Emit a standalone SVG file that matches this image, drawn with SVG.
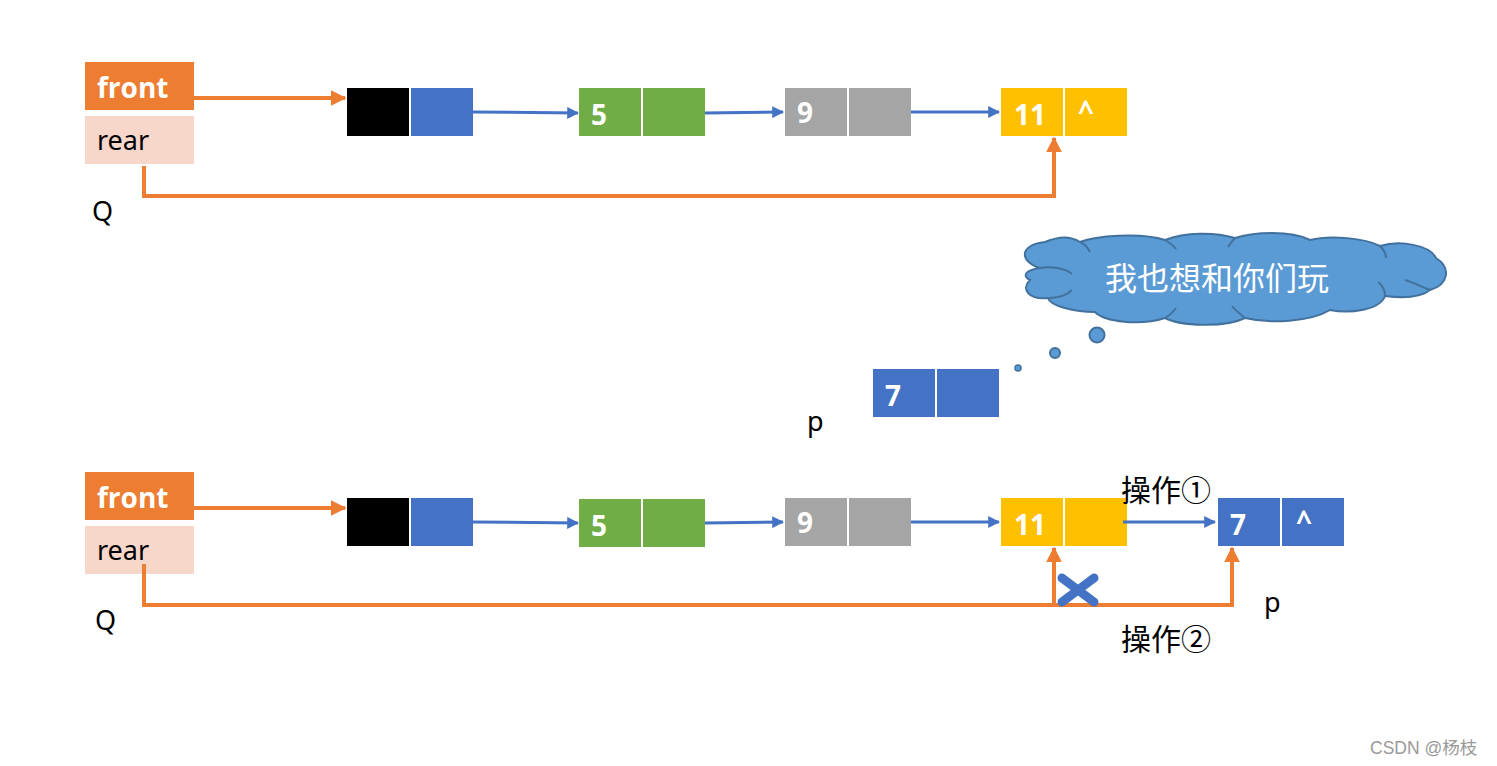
<svg xmlns="http://www.w3.org/2000/svg" width="1497" height="766" viewBox="0 0 1497 766">
<style>
.lbl{font-family:"Noto Sans","Liberation Sans",sans-serif;font-size:27px;fill:#000}
.bw{font-family:"Open Sans","Liberation Sans",sans-serif;font-weight:bold;font-size:28px;fill:#fff}
.cjk{font-family:"Noto Sans CJK SC",sans-serif;font-size:30px;fill:#000}
.oa{stroke:#ED7D31;stroke-width:4;fill:none}
.ba{stroke:#4472C4;stroke-width:3;fill:none}
</style>
<defs>
<marker id="mo" viewBox="0 0 10 10" refX="9" refY="5" markerWidth="4" markerHeight="4" orient="auto" markerUnits="strokeWidth"><path d="M0,0L10,5L0,10z" fill="#ED7D31"/></marker>
<marker id="mb" viewBox="0 0 10 10" refX="9" refY="5" markerWidth="4" markerHeight="4" orient="auto" markerUnits="strokeWidth"><path d="M0,0L10,5L0,10z" fill="#4472C4"/></marker>
</defs>
<rect width="1497" height="766" fill="#fff"/>

<g id="Q1">
<rect x="85" y="62" width="109" height="48" fill="#ED7D31"/>
<text x="97" y="98" class="bw">front</text>
<rect x="85" y="116" width="109" height="48" fill="#F8D7CB"/>
<text x="97" y="150" class="lbl">rear</text>
<text x="92" y="221" class="lbl">Q</text>
</g>
<g id="head1"><rect x="347" y="88" width="62" height="48" fill="#000"/><rect x="411" y="88" width="62" height="48" fill="#4472C4"/></g>
<g id="n5a"><rect x="579" y="88" width="62" height="48" fill="#70AD47"/><rect x="643" y="88" width="62" height="48" fill="#70AD47"/><text x="591" y="125" class="bw">5</text></g>
<g id="n9a"><rect x="785" y="88" width="62" height="48" fill="#A5A5A5"/><rect x="849" y="88" width="62" height="48" fill="#A5A5A5"/><text x="797" y="123" class="bw">9</text></g>
<g id="n11a"><rect x="1001" y="88" width="62" height="48" fill="#FFC000"/><rect x="1065" y="88" width="62" height="48" fill="#FFC000"/><text x="1014" y="125" class="bw">11</text><text x="1078" y="121" class="bw">^</text></g>

<g id="cloud">
<path d="M1040,268 C1020,262 1018,245 1045,242 C1060,236 1070,236 1080,242 C1095,236 1140,232 1165,240 C1185,232 1215,232 1235,238 C1255,232 1290,230 1310,240 C1330,235 1365,238 1380,246 C1400,240 1430,245 1436,258 C1452,268 1448,285 1430,290 C1420,298 1400,298 1385,296 C1380,310 1350,314 1330,310 C1310,322 1270,324 1245,318 C1225,328 1180,326 1165,318 C1140,326 1105,322 1095,312 C1075,312 1050,306 1048,298 C1030,300 1020,290 1030,280 C1022,276 1025,270 1040,268 Z" fill="#5B9BD5" stroke="#41719C" stroke-width="2"/>
<path d="M1040,268 C1050,266 1065,268 1072,274 M1080,242 C1085,244 1088,248 1090,252 M1165,240 C1170,243 1174,246 1176,249 M1235,238 C1232,241 1230,244 1228,247 M1380,246 C1384,250 1386,254 1386,258 M1430,290 C1420,286 1412,282 1405,280 M1385,296 C1385,290 1382,285 1378,282 M1245,318 C1240,314 1235,310 1232,306 M1165,318 C1170,315 1174,311 1176,308 M1048,298 C1060,298 1068,294 1072,290" fill="none" stroke="#41719C" stroke-width="2"/>
<text x="1217" y="290" font-family="Noto Sans CJK SC,sans-serif" font-size="32" fill="#fff" text-anchor="middle">我也想和你们玩</text>
<circle cx="1097" cy="335" r="7.5" fill="#5B9BD5" stroke="#41719C" stroke-width="2"/>
<circle cx="1055" cy="353" r="5" fill="#5B9BD5" stroke="#41719C" stroke-width="2"/>
<circle cx="1018" cy="368" r="3" fill="#5B9BD5" stroke="#41719C" stroke-width="1.5"/>
</g>

<g id="p1"><rect x="873" y="369" width="62" height="48" fill="#4472C4"/><rect x="937" y="369" width="62" height="48" fill="#4472C4"/><text x="885" y="406" class="bw">7</text><text x="807" y="431" class="lbl">p</text></g>

<g id="Q2">
<rect x="85" y="472" width="109" height="48" fill="#ED7D31"/>
<text x="97" y="508" class="bw">front</text>
<rect x="85" y="526" width="109" height="48" fill="#F8D7CB"/>
<text x="97" y="560" class="lbl">rear</text>
<text x="95" y="630" class="lbl">Q</text>
</g>
<g id="head2"><rect x="347" y="498" width="62" height="48" fill="#000"/><rect x="411" y="498" width="62" height="48" fill="#4472C4"/></g>
<g id="n5b"><rect x="579" y="499" width="62" height="48" fill="#70AD47"/><rect x="643" y="499" width="62" height="48" fill="#70AD47"/><text x="591" y="536" class="bw">5</text></g>
<g id="n9b"><rect x="785" y="498" width="62" height="48" fill="#A5A5A5"/><rect x="849" y="498" width="62" height="48" fill="#A5A5A5"/><text x="797" y="533" class="bw">9</text></g>
<g id="n11b"><rect x="1001" y="498" width="62" height="48" fill="#FFC000"/><rect x="1065" y="498" width="62" height="48" fill="#FFC000"/><text x="1014" y="535" class="bw">11</text></g>
<g id="n7b"><rect x="1218" y="498" width="62" height="48" fill="#4472C4"/><rect x="1282" y="498" width="62" height="48" fill="#4472C4"/><text x="1230" y="535" class="bw">7</text><text x="1296" y="531" class="bw">^</text><text x="1264" y="612" class="lbl">p</text></g>
<g id="labels">
<text x="1121" y="501" class="cjk">操作①</text>
<text x="1121" y="650" class="cjk">操作②</text>
<text x="1370" y="754" font-family="Liberation Sans,Noto Sans CJK SC,sans-serif" font-size="17.5" fill="#999">CSDN @杨枝</text>
</g>

<g id="connectors">
<path class="oa" d="M194,98H345" marker-end="url(#mo)"/>
<path class="oa" d="M144,166V196H1054V138" marker-end="url(#mo)"/>
<path class="ba" d="M473,112L578,113" marker-end="url(#mb)"/>
<path class="ba" d="M705,113L783,112" marker-end="url(#mb)"/>
<path class="ba" d="M911,112H999" marker-end="url(#mb)"/>

<path class="oa" d="M194,508H345" marker-end="url(#mo)"/>
<path class="oa" d="M144,564V605H1232V548" marker-end="url(#mo)"/>
<path class="oa" d="M1054,605V548" marker-end="url(#mo)"/>
<path class="ba" d="M473,522L578,523" marker-end="url(#mb)"/>
<path class="ba" d="M705,523L783,522" marker-end="url(#mb)"/>
<path class="ba" d="M911,522H999" marker-end="url(#mb)"/>
<path class="ba" d="M1123,522H1215" marker-end="url(#mb)"/>
<path d="M1062,578L1094,602M1094,578L1062,602" stroke="#4472C4" stroke-width="9" stroke-linecap="round"/>
</g>
</svg>
